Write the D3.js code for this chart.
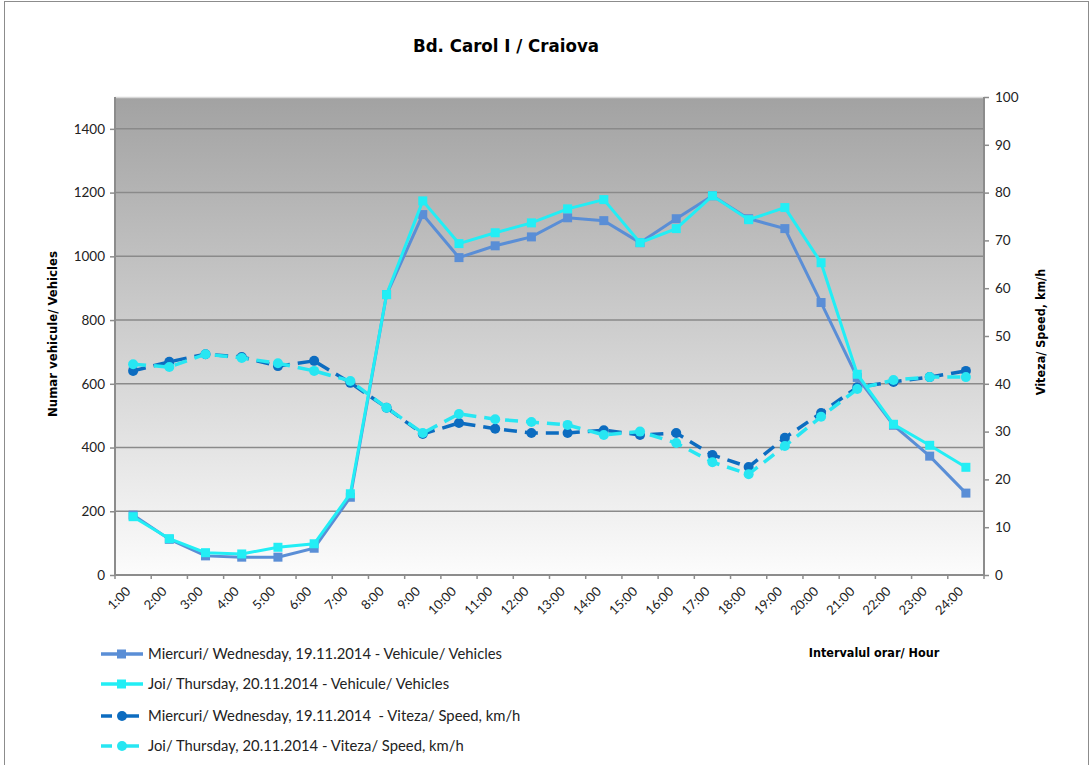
<!DOCTYPE html>
<html><head><meta charset="utf-8">
<script src="https://cdn.jsdelivr.net/npm/d3@7"></script>
<style>body{margin:0;background:#fff}svg{display:block}</style>
</head><body>
<script>
const hours = ["1:00","2:00","3:00","4:00","5:00","6:00","7:00","8:00","9:00","10:00","11:00","12:00","13:00","14:00","15:00","16:00","17:00","18:00","19:00","20:00","21:00","22:00","23:00","24:00"];
const vehWed = [188,112,60,56,56,84,244,880,1131,996,1033,1061,1121,1112,1043,1118,1190,1118,1087,855,620,470,373,257];
const vehThu = [183,114,70,66,87,98,255,880,1174,1040,1074,1105,1149,1178,1043,1087,1190,1115,1153,980,630,473,407,338];
const spdWed = [42.7,44.6,46.2,45.6,43.7,44.8,40.2,35.0,29.5,31.8,30.6,29.7,29.7,30.3,29.3,29.7,25.1,22.6,28.7,33.9,39.3,40.4,41.4,42.7];
const spdThu = [44.1,43.5,46.2,45.4,44.3,42.7,40.6,35.0,29.7,33.7,32.6,32.0,31.4,29.3,30.0,27.6,23.6,21.1,27.0,33.1,38.9,40.8,41.4,41.4];
const leftTicks = [0,200,400,600,800,1000,1200,1400];
const rightTicks = [0,10,20,30,40,50,60,70,80,90,100];
const seriesNames = ["Miercuri/ Wednesday, 19.11.2014 - Vehicule/ Vehicles","Joi/ Thursday, 20.11.2014 - Vehicule/ Vehicles","Miercuri/ Wednesday, 19.11.2014  - Viteza/ Speed, km/h","Joi/ Thursday, 20.11.2014 - Viteza/ Speed, km/h"];

const W=1092,H=765;
const L=115,R=984,T=97,B=575;
const font="Lato, 'Open Sans', sans-serif";
const bfont="'DejaVu Sans Condensed','DejaVu Sans',sans-serif";
const svg=d3.select("body").append("svg").attr("width",W).attr("height",H);

svg.append("rect").attr("x",4.5).attr("y",1.5).attr("width",1084).attr("height",H+10).attr("fill","none").attr("stroke","#8c8c8c");

const defs=svg.append("defs");
const g=defs.append("linearGradient").attr("id","bg").attr("x1",0).attr("y1",0).attr("x2",0).attr("y2",1);
g.append("stop").attr("offset","0%").attr("stop-color","#a2a2a2");
g.append("stop").attr("offset","100%").attr("stop-color","#fcfcfc");

const x=d3.scaleBand().domain(hours).range([L,R]).padding(0);
const yL=d3.scaleLinear().domain([0,1500]).range([B,T]);
const yR=d3.scaleLinear().domain([0,100]).range([B,T]);

svg.append("rect").attr("x",L).attr("y",T).attr("width",R-L).attr("height",B-T).attr("fill","url(#bg)");
svg.append("line").attr("x1",L).attr("x2",R).attr("y1",T+0.5).attr("y2",T+0.5).attr("stroke","#d8d8d8").attr("stroke-width",1.5);

svg.append("g").selectAll("line").data(leftTicks.filter(d=>d>0)).join("line")
  .attr("x1",L).attr("x2",R).attr("y1",d=>yL(d)).attr("y2",d=>yL(d))
  .attr("stroke","#8a8a8a").attr("stroke-width",1.5);

const la=svg.append("g").attr("transform",`translate(${L},0)`)
  .call(d3.axisLeft(yL).tickValues(leftTicks).tickSize(5).tickPadding(5).tickFormat(d3.format("d")));
const ra=svg.append("g").attr("transform",`translate(${R},0)`)
  .call(d3.axisRight(yR).tickValues(rightTicks).tickSize(5).tickPadding(6));
const ba=svg.append("g").attr("transform",`translate(0,${B})`)
  .call(d3.axisBottom(x).tickSize(0).tickFormat(""));
ba.selectAll(".tick").remove();
ba.append("g").selectAll("line").data(d3.range(hours.length+1)).join("line")
  .attr("x1",i=>L+i*x.step()).attr("x2",i=>L+i*x.step()).attr("y1",0).attr("y2",4)
  .attr("stroke","#8c8c8c").attr("stroke-width",1.5);
ba.selectAll(".xl").data(hours).join("text").attr("class","xl")
  .attr("transform",d=>`translate(${x(d)+x.bandwidth()/2-5},${14}) rotate(-45)`)
  .attr("text-anchor","end").attr("dy","0.35em").attr("fill","#222")
  .style("font-family",font).style("font-size","13px").text(d=>d);

[la,ra,ba].forEach(a=>{a.select(".domain").attr("stroke","#8c8c8c").attr("stroke-width",2);
  a.selectAll(".tick line").attr("stroke","#8c8c8c").attr("stroke-width",1.5);
  a.selectAll(".tick text").attr("fill","#222").style("font-family",font).style("font-size","13.5px");});
la.select(".domain").attr("d",`M0,${T}V${B}`);
ra.select(".domain").attr("d",`M0,${T}V${B}`);
ba.select(".domain").attr("d",`M${L},0H${R}`);

const cx=i=>x(hours[i])+x.bandwidth()/2;

function drawSpeed(data,color){
  const line=d3.line().x((d,i)=>cx(i)).y(d=>yR(d));
  svg.append("path").datum(data).attr("d",line).attr("fill","none").attr("stroke",color)
    .attr("stroke-width",3.5).attr("stroke-dasharray","13,8");
  svg.append("g").selectAll("circle").data(data).join("circle")
    .attr("cx",(d,i)=>cx(i)).attr("cy",d=>yR(d)).attr("r",5).attr("fill",color);
}
function drawVeh(data,color){
  const line=d3.line().x((d,i)=>cx(i)).y(d=>yL(d));
  svg.append("path").datum(data).attr("d",line).attr("fill","none").attr("stroke",color).attr("stroke-width",3);
  svg.append("g").selectAll("rect").data(data).join("rect")
    .attr("x",(d,i)=>cx(i)-4.5).attr("y",d=>yL(d)-4.5).attr("width",9).attr("height",9).attr("fill",color);
}
const cols=["#5a8ed6","#22eef5","#0c6cc0","#27e6f2"];
drawSpeed(spdWed,cols[2]);
drawSpeed(spdThu,cols[3]);
drawVeh(vehWed,cols[0]);
drawVeh(vehThu,cols[1]);

svg.append("text").attr("x",506).attr("y",52).attr("text-anchor","middle")
  .style("font-family",bfont).style("font-weight","bold").style("font-size","18.5px")
  .attr("fill","#000").text("Bd. Carol I / Craiova");
svg.append("text").attr("transform","translate(57,334) rotate(-90)").attr("text-anchor","middle")
  .style("font-family",bfont).style("font-weight","bold").style("font-size","13px")
  .text("Numar vehicule/ Vehicles");
svg.append("text").attr("transform","translate(1045,332) rotate(-90)").attr("text-anchor","middle")
  .style("font-family",bfont).style("font-weight","bold").style("font-size","12.5px")
  .text("Viteza/ Speed, km/h");
svg.append("text").attr("x",874).attr("y",657).attr("text-anchor","middle")
  .style("font-family",bfont).style("font-weight","bold").style("font-size","12.5px")
  .text("Intervalul orar/ Hour");

const ly=[654,684,716,746];
seriesNames.forEach((nm,i)=>{
  const gg=svg.append("g");
  const y=ly[i];
  if(i<2){
    gg.append("line").attr("x1",101).attr("x2",143).attr("y1",y).attr("y2",y).attr("stroke",cols[i]).attr("stroke-width",3.5);
    gg.append("rect").attr("x",117).attr("y",y-4.5).attr("width",9).attr("height",9).attr("fill",cols[i]);
  } else {
    gg.append("line").attr("x1",101).attr("x2",112).attr("y1",y).attr("y2",y).attr("stroke",cols[i]).attr("stroke-width",3.5);
    gg.append("line").attr("x1",126).attr("x2",139).attr("y1",y).attr("y2",y).attr("stroke",cols[i]).attr("stroke-width",3.5);
    gg.append("circle").attr("cx",122).attr("cy",y).attr("r",5).attr("fill",cols[i]);
  }
  gg.append("text").attr("x",148).attr("y",y).attr("dy","0.35em").attr("fill","#222")
    .style("white-space","pre").attr("xml:space","preserve")
    .style("font-family",font).style("font-size","14.8px").text(nm);
});
</script>
</body></html>
